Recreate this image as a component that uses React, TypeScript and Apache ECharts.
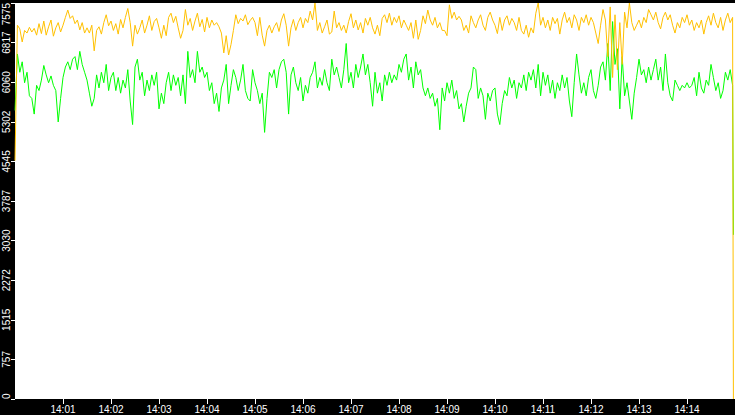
import React, { useEffect, useRef } from "react";
import * as echarts from "echarts";

// seconds after 14:00:00, one sample every 3 s, plus the final sample
const sampleStepSeconds = 3;
const lastSampleSecond = 898;

const orangeValues = [
  4560, 7150, 7080, 6830, 7050, 7000, 7110, 7020, 7090, 6960,
  7180, 6990, 7230, 6960, 7120, 7250, 6940, 7100, 7200, 7020,
  7150, 7300, 7440, 7280, 7330, 7180, 7250, 7060, 7200, 7000,
  7100, 7000, 7150, 6660, 7050, 7120, 6980, 7200, 7350, 7140,
  7230, 7050, 7180, 6980, 7260, 7100, 7300, 7470, 7200, 6750,
  7150, 6980, 7100, 7250, 7000, 7150, 7330, 7050, 7220, 7280,
  7100, 6900, 7150, 6950, 7300, 7380, 7200, 7320, 7100, 6900,
  7050, 7450, 7150, 7280, 7050, 7230, 7380, 7120, 7260, 7020,
  7300, 7100, 7250, 7150, 7200, 7120, 7000, 6620, 6950, 6580,
  6780, 7050, 7350, 7180, 7280, 7230, 7350, 7160, 7240, 7300,
  7200, 6950, 7300, 6960, 6750, 7050, 7150, 7000, 7120, 7200,
  7030, 7250, 7370, 7150, 6750, 7100, 7260, 7050, 7200, 7300,
  7100, 7280, 7200, 7420, 7250, 7575, 7050, 7200, 7000, 7120,
  7250, 6980, 7020, 7420, 7100, 7200, 7050, 7150, 7000, 7220,
  7370, 7100, 7250, 7060, 7200, 7000, 7280, 7150, 7300, 7100,
  6980, 7150, 6950, 7280, 7350, 7200, 7380, 7150, 7300, 7200,
  7330, 7100, 7250, 7150, 7050, 7200, 6900, 7250, 6880, 7050,
  7330, 7180, 7440, 7250, 7150, 7300, 7100, 7200, 7050, 7050,
  6950, 7540, 7280, 7400, 7250, 7320, 7250, 7050, 7150, 7000,
  7330, 7200, 7100, 7250, 7350, 7150, 7050, 7300, 7400, 7250,
  7150, 6990, 7300, 7050, 7250, 7330, 7150, 7280, 7200, 7050,
  7300, 7050, 6980, 7150, 6920, 7100, 7000, 7380, 7575, 7150,
  7300, 7100, 7250, 7050, 7300, 7180, 7280, 6980, 7250, 7400,
  7200, 7300, 7100, 7350, 7250, 7050, 7300, 7200, 7350, 7150,
  7300, 7200, 7000, 6800, 7150, 7450, 7250, 6550, 7500, 6150,
  7350, 6300, 7200, 6400, 7400, 7100, 7575, 7200, 7050, 7150,
  7250, 7100, 7300, 7200, 7450, 7350, 7250, 7400, 7200, 7080,
  7300, 7400, 7250, 7350, 7150, 7000, 7200, 7100, 7300, 7200,
  7350, 7150, 7250, 7050, 7200, 7100, 7250, 6980, 7200, 7330,
  7150, 7380, 7200, 7100, 7300, 7050, 7250, 7380, 7200, 7300,
  0,
];

const greenValues = [
  5520, 6600, 6250, 6450, 6050, 6250, 5800, 5750, 5450, 6000,
  5900, 6100, 6380, 6200, 6050, 6180, 6000, 5900, 5300, 5750,
  6150, 6350, 6450, 6300, 6500, 6550, 6300, 6650, 6400, 6250,
  6100, 5850, 5600, 5750, 6200, 5950, 6250, 6050, 6400, 5900,
  6150, 6250, 5900, 6150, 5850, 6100, 5950, 6300, 5700, 5250,
  6350, 6500, 6100, 6250, 5800, 6100, 5900, 6200, 6000, 6250,
  5550, 5850, 5650, 6050, 6250, 5900, 6200, 6000, 6150, 5800,
  6200, 5650, 6650, 6150, 6300, 6050, 6650, 6250, 6350, 6150,
  6250, 5900, 6050, 5650, 5850, 5500, 5950, 6100, 6400, 5650,
  6000, 6300, 6150, 5900, 6100, 6400, 5900, 5750, 5700, 6300,
  6050, 5900, 5650, 5850, 5100, 5750, 6250, 6150, 6300, 5950,
  6300, 6450, 6500, 6250, 5450, 6200, 6350, 6050, 5900, 6150,
  5700, 6000, 5850, 6150, 6250, 6450, 5950, 6150, 6000, 6300,
  6050, 5900, 6500, 6200, 6350, 6150, 5950, 6300, 6800, 6050,
  6250, 5950, 6400, 6150, 6350, 6600, 6200, 6400, 6050, 5600,
  6250, 5850, 6050, 5700, 6200, 6000, 6250, 6050, 6200, 6100,
  6400, 6250, 6500, 6600, 6100, 6350, 5950, 6450, 6200, 6300,
  5950, 5800, 5950, 5750, 5850, 5600, 5750, 5150, 5950, 5700,
  6050, 5850, 6100, 5750, 5900, 5550, 5650, 5300, 5600, 5850,
  5950, 6350, 6300, 5750, 5950, 5800, 5350, 5850, 5700, 5900,
  5950, 5450, 5250, 5650, 5900, 5800, 6150, 5950, 6100, 5750,
  6050, 5950, 6200, 5900, 6250, 6100, 6300, 5950, 6400, 5800,
  6250, 6000, 6200, 5850, 6100, 5750, 6050, 5900, 6200, 5950,
  6150, 5700, 5400, 6050, 6600, 6200, 5850, 6050, 5800, 6150,
  6300, 5900, 5750, 6000, 6350, 6450, 6100, 6800, 5900, 7220,
  6400, 6700, 5550, 6550, 5800, 6050, 5700, 5350, 5850, 6150,
  6500, 6200, 6300, 6050, 6350, 6100, 6300, 6500, 6100, 6350,
  5900, 6600, 6050, 5800, 5700, 6100, 6000, 5900, 6000, 5950,
  6050, 5950, 6000, 6150, 5800, 6250, 5950, 5850, 6100, 6000,
  6400, 6150, 5900, 6050, 5750, 5900, 6250, 6100, 6300, 6000,
  3140,
];

const yMin = 0;
const yMax = 7575;
const yInterval = 757.5;
const xMinSeconds = 0;
const xMaxSeconds = 900;
const minuteTicks = [60, 120, 180, 240, 300, 360, 420, 480, 540, 600, 660, 720, 780, 840];
const hourLabel = "14";

function secondsOf(i: number, count: number): number {
  return i === count - 1 ? lastSampleSecond : i * sampleStepSeconds;
}

function toPairs(values: number[]): [number, number][] {
  return values.map((v, i) => [secondsOf(i, values.length), v]);
}

export default function App() {
  const ref = useRef<HTMLDivElement>(null);

  useEffect(() => {
    if (!ref.current) return;
    const chart = echarts.init(ref.current, undefined, { renderer: "svg" });
    chart.setOption({
      animation: false,
      backgroundColor: "#000000",
      grid: {
        left: 15,
        right: 0,
        top: 0,
        bottom: 16,
        show: true,
        backgroundColor: "#ffffff",
        borderWidth: 0,
      },
      xAxis: {
        type: "value",
        min: xMinSeconds,
        max: xMaxSeconds,
        splitLine: { show: false },
        axisLine: { show: false },
        axisTick: {
          show: true,
          length: 5,
          customValues: minuteTicks,
          lineStyle: { color: "#ffffff", width: 1 },
        },
        axisLabel: {
          customValues: minuteTicks,
          color: "#ffffff",
          fontSize: 10,
          fontFamily: "'Liberation Sans', Arial, sans-serif",
          margin: 5,
          formatter: (v: number) => `${hourLabel}:${String(Math.round(v / 60)).padStart(2, "0")}`,
        },
      },
      yAxis: {
        type: "value",
        min: yMin,
        max: yMax,
        interval: yInterval,
        splitLine: { show: false },
        axisLine: { show: false },
        axisTick: { show: true, length: 4, lineStyle: { color: "#ffffff", width: 1 } },
        axisLabel: {
          rotate: 90,
          color: "#ffffff",
          fontSize: 10,
          fontFamily: "'Liberation Sans Narrow', 'Liberation Sans', Arial, sans-serif",
          margin: 4,
          alignMinLabel: "left",
          alignMaxLabel: "right",
          formatter: (v: number) => String(Math.floor(v)),
        },
      },
      series: [
        {
          type: "line",
          data: toPairs(greenValues),
          showSymbol: false,
          symbol: "none",
          lineStyle: { color: "#00ff00", width: 1 },
          z: 2,
        },
        {
          type: "line",
          data: toPairs(orangeValues),
          showSymbol: false,
          symbol: "none",
          lineStyle: { color: "#ffc000", width: 1 },
          z: 3,
        },
      ],
    });
    return () => chart.dispose();
  }, []);

  return (
    <div
      ref={ref}
      style={{ position: "fixed", left: 0, top: 0, width: 735, height: 415, background: "#000" }}
    />
  );
}
